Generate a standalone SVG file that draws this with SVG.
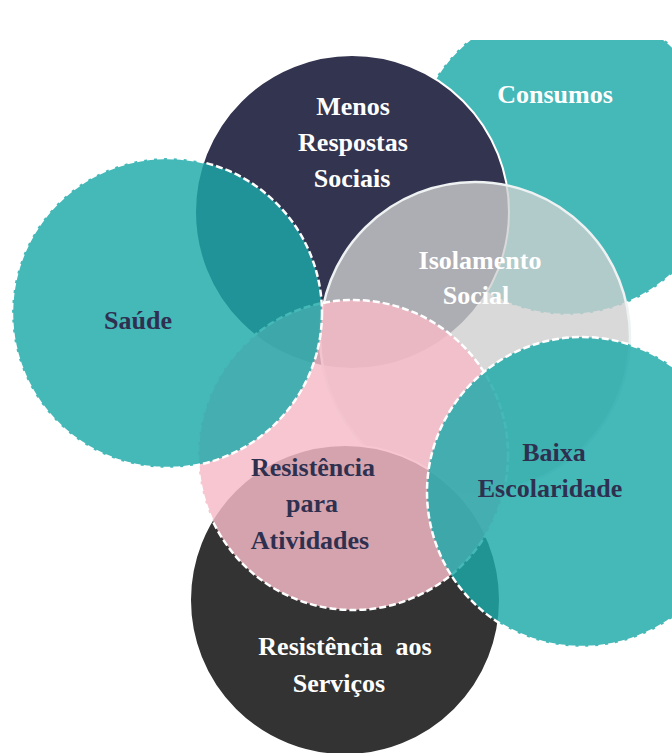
<svg xmlns="http://www.w3.org/2000/svg" width="672" height="753" viewBox="0 0 672 753">
  <style>
    .lbl { font-family: "Liberation Serif", "Times New Roman", serif; font-weight: bold; font-size: 26px; text-anchor: middle; white-space: pre; }
    .w { fill: #ffffff; }
    .n { fill: #2f3050; }
    .teal { fill: #1ca8a8; fill-opacity: 0.82; stroke: #ffffff; stroke-width: 2.5; stroke-dasharray: 7 3; }
    .navy { fill: #33344f; stroke: #ffffff; stroke-width: 2; }
    .gray { fill: #cfcfcf; fill-opacity: 0.79; stroke: #eef2f3; stroke-width: 2.5; }
    .pink { fill: #f5bac6; fill-opacity: 0.83; stroke: #ffffff; stroke-width: 2.5; stroke-dasharray: 7 3; }
    .dark { fill: #333333; stroke: #ffffff; stroke-width: 2; }
  </style>
  <defs>
    <clipPath id="topclip">
      <rect x="0" y="40" width="672" height="713"/>
    </clipPath>
  </defs>
  <rect x="0" y="0" width="672" height="753" fill="#ffffff"/>

  <g id="connectors"></g>

  <g id="consumos">
    <circle class="teal" cx="567" cy="160" r="155" clip-path="url(#topclip)"/>
    <text class="lbl w" x="555" y="103">Consumos</text>
  </g>

  <g id="menos-respostas-sociais">
    <circle class="navy" cx="352" cy="212" r="157"/>
    <text class="lbl w" x="353" y="115">Menos</text>
    <text class="lbl w" x="353" y="151">Respostas</text>
    <text class="lbl w" x="352" y="187">Sociais</text>
  </g>

  <g id="isolamento-social">
    <circle class="gray" cx="475" cy="337" r="155"/>
    <text class="lbl w" x="480" y="269">Isolamento</text>
    <text class="lbl w" x="476" y="304">Social</text>
  </g>

  <g id="resistencia-servicos">
    <circle class="dark" cx="345" cy="600" r="155"/>
    <text class="lbl w" x="345" y="655">Resistência  aos</text>
    <text class="lbl w" x="339" y="692">Serviços</text>
  </g>

  <g id="resistencia-atividades">
    <circle class="pink" cx="353" cy="455" r="155"/>
    <text class="lbl n" x="313" y="476">Resistência</text>
    <text class="lbl n" x="312" y="512">para</text>
    <text class="lbl n" x="310" y="549">Atividades</text>
  </g>

  <g id="saude">
    <circle class="teal" cx="167" cy="313" r="155"/>
    <text class="lbl n" x="138" y="329">Saúde</text>
  </g>

  <g id="baixa-escolaridade">
    <circle class="teal" cx="582" cy="492" r="155"/>
    <text class="lbl n" x="554" y="461">Baixa</text>
    <text class="lbl n" x="550" y="497">Escolaridade</text>
  </g>
</svg>
